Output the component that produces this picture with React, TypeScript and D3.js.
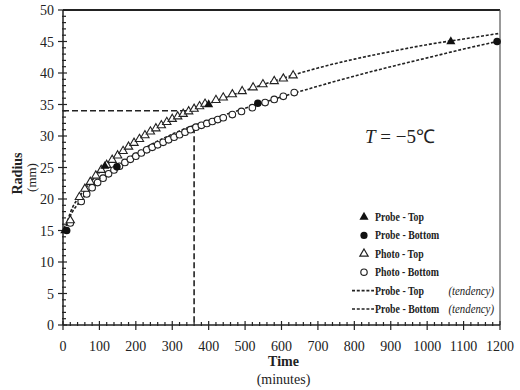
import * as d3 from 'd3';
import { useEffect, useRef } from 'react';

const W = 520;
const H = 390;

// measured points (minutes, radius mm)
const probeTopT = [5, 115, 400, 1065];
const probeTopR = [15, 25.2, 35, 45];
const probeBottomT = [10, 148, 535, 1192];
const probeBottomR = [15, 25.1, 35.2, 45];

const photoTopT = [20, 45, 60, 75, 90, 105, 120, 135, 150, 165, 180, 195, 210, 225, 240, 255, 270, 285, 300, 315, 330, 345, 360, 375, 390, 420, 440, 465, 492, 522, 549, 580, 605, 632];
const photoTopR = [16.6, 20.3, 21.6, 22.7, 23.7, 24.6, 25.4, 26.2, 26.9, 27.6, 28.3, 28.9, 29.5, 30.1, 30.7, 31.2, 31.7, 32.2, 32.7, 33.1, 33.5, 33.9, 34.3, 34.7, 35.1, 35.7, 36.1, 36.6, 37.1, 37.7, 38.2, 38.7, 39.1, 39.6];
const photoBottomT = [20, 50, 65, 80, 95, 110, 125, 140, 155, 170, 185, 200, 215, 230, 245, 260, 275, 290, 305, 320, 335, 350, 365, 380, 395, 410, 425, 440, 465, 490, 520, 555, 580, 605, 635];
const photoBottomR = [16.2, 19.6, 20.8, 21.8, 22.6, 23.3, 24, 24.6, 25.2, 25.8, 26.3, 26.8, 27.3, 27.8, 28.2, 28.6, 29, 29.4, 29.8, 30.2, 30.6, 31, 31.4, 31.7, 32, 32.3, 32.6, 32.9, 33.4, 33.9, 34.5, 35.3, 35.8, 36.3, 36.9];

// tendency curves
const trendTopT = [5, 20, 50, 100, 200, 300, 400, 500, 600, 700, 800, 900, 1000, 1100, 1200];
const trendTopR = [15, 17.8, 20.8, 24.2, 29.2, 32.6, 35.1, 37.2, 39.1, 40.8, 42.2, 43.4, 44.5, 45.4, 46.3];
const trendBottomT = [5, 20, 50, 100, 200, 300, 400, 500, 600, 700, 800, 900, 1000, 1100, 1200];
const trendBottomR = [15, 17.3, 19.8, 22.8, 27.2, 30.3, 32.5, 34.4, 36.2, 37.9, 39.5, 41, 42.4, 43.8, 45.1];

const xTicks = [0, 100, 200, 300, 400, 500, 600, 700, 800, 900, 1000, 1100, 1200];
const yTicks = [0, 5, 10, 15, 20, 25, 30, 35, 40, 45, 50];

const refTime = 360;
const refRadius = 34;
const refBottom = 31.4;

const legendLabels = ['Probe - Top', 'Probe - Bottom', 'Photo - Top', 'Photo - Bottom', 'Probe - Top', 'Probe - Bottom'];

const FONT = 'Liberation Serif';

function zip(t: number[], r: number[]) {
    return t.map((v, i) => ({ t: v, r: r[i] }));
}

export default function App() {
    const svgRef = useRef<SVGSVGElement | null>(null);

    useEffect(() => {
        if (!svgRef.current) return;
        const svg = d3.select(svgRef.current);
        svg.selectAll('*').remove();

        const margin = { top: 10, right: 20, bottom: 65, left: 63 };
        const innerW = W - margin.left - margin.right;
        const innerH = H - margin.top - margin.bottom;

        const x = d3.scaleLinear().domain([0, 1200]).range([0, innerW]);
        const y = d3.scaleLinear().domain([0, 50]).range([innerH, 0]);

        svg.append('rect').attr('width', W).attr('height', H).attr('fill', '#fff');

        const g = svg.append('g').attr('transform', `translate(${margin.left},${margin.top})`);

        // frame: top and right
        g.append('line').attr('x1', 0).attr('x2', innerW).attr('y1', 0).attr('y2', 0)
            .attr('stroke', '#222').attr('stroke-width', 2);
        g.append('line').attr('x1', innerW).attr('x2', innerW).attr('y1', 0).attr('y2', innerH)
            .attr('stroke', '#555').attr('stroke-width', 1.2);

        // x axis
        const xAxis = g.append('g').attr('transform', `translate(0,${innerH})`);
        xAxis.append('line').attr('x1', 0).attr('x2', innerW).attr('stroke', '#222').attr('stroke-width', 1.5);
        xAxis.selectAll('.minor').data(d3.range(0, 1201, 20)).join('line')
            .attr('x1', (d) => x(d)).attr('x2', (d) => x(d))
            .attr('y1', (d) => (d % 100 === 0 ? -4 : -3)).attr('y2', (d) => (d % 100 === 0 ? 5 : 1))
            .attr('stroke', '#222').attr('stroke-width', 1.2);
        xAxis.selectAll('text').data(xTicks).join('text')
            .attr('x', (d) => x(d)).attr('y', 26)
            .attr('text-anchor', 'middle').style('font-family', FONT).attr('font-size', 14)
            .attr('fill', '#222').text((d) => d);

        // y axis
        const yAxis = g.append('g');
        yAxis.append('line').attr('y1', 0).attr('y2', innerH).attr('stroke', '#222').attr('stroke-width', 1.5);
        yAxis.selectAll('.minor').data(d3.range(0, 51, 1)).join('line')
            .attr('y1', (d) => y(d)).attr('y2', (d) => y(d))
            .attr('x1', (d) => (d % 5 === 0 ? -5 : -1)).attr('x2', (d) => (d % 5 === 0 ? 4 : 3))
            .attr('stroke', '#222').attr('stroke-width', 1.2);
        yAxis.selectAll('text').data(yTicks).join('text')
            .attr('x', -9).attr('y', (d) => y(d) + 5)
            .attr('text-anchor', 'end').style('font-family', FONT).attr('font-size', 14)
            .attr('fill', '#222').text((d) => d);

        // axis titles
        svg.append('text').attr('transform', `translate(22,${margin.top + innerH / 2 + 6}) rotate(-90)`)
            .attr('text-anchor', 'middle').style('font-family', FONT).attr('font-size', 14)
            .attr('font-weight', 'bold').attr('fill', '#222').text('Radius');
        svg.append('text').attr('transform', `translate(36,${margin.top + innerH / 2 + 10}) rotate(-90)`)
            .attr('text-anchor', 'middle').style('font-family', FONT).attr('font-size', 13)
            .attr('fill', '#222').text('(mm)');
        svg.append('text').attr('x', margin.left + innerW / 2 + 2).attr('y', 366)
            .attr('text-anchor', 'middle').style('font-family', FONT).attr('font-size', 14)
            .attr('font-weight', 'bold').attr('fill', '#222').text('Time');
        svg.append('text').attr('x', margin.left + innerW / 2 + 2).attr('y', 384)
            .attr('text-anchor', 'middle').style('font-family', FONT).attr('font-size', 14)
            .attr('fill', '#222').text('(minutes)');

        // reference cross lines
        g.append('path')
            .attr('d', `M0,${y(refRadius)}H${x(refTime)}`)
            .attr('fill', 'none').attr('stroke', '#222').attr('stroke-width', 1.5).attr('stroke-dasharray', '6,3');
        g.append('path')
            .attr('d', `M${x(refTime)},${y(refBottom)}V${innerH}`)
            .attr('fill', 'none').attr('stroke', '#222').attr('stroke-width', 1.6).attr('stroke-dasharray', '6,3');

        // tendency curves
        const line = d3.line<{ t: number; r: number }>()
            .x((d) => x(d.t)).y((d) => y(d.r)).curve(d3.curveMonotoneX);
        [zip(trendTopT, trendTopR), zip(trendBottomT, trendBottomR)].forEach((s) => {
            g.append('path').datum(s).attr('d', line)
                .attr('fill', 'none').attr('stroke', '#222').attr('stroke-width', 1.6)
                .attr('stroke-dasharray', '3,1.8');
        });

        const tri = d3.symbol().type(d3.symbolTriangle).size(36);
        const triOpen = d3.symbol().type(d3.symbolTriangle).size(30);

        // photo markers (open)
        g.append('g').selectAll('path').data(zip(photoBottomT, photoBottomR)).join('circle')
            .attr('cx', (d) => x(d.t)).attr('cy', (d) => y(d.r)).attr('r', 3.3)
            .attr('fill', '#fff').attr('stroke', '#222').attr('stroke-width', 1.1);
        g.append('g').selectAll('path').data(zip(photoTopT, photoTopR)).join('path')
            .attr('d', triOpen).attr('transform', (d) => `translate(${x(d.t)},${y(d.r)})`)
            .attr('fill', '#fff').attr('stroke', '#222').attr('stroke-width', 1.1);

        // probe markers (filled)
        g.append('g').selectAll('circle').data(zip(probeBottomT, probeBottomR)).join('circle')
            .attr('cx', (d) => x(d.t)).attr('cy', (d) => y(d.r)).attr('r', 3.8).attr('fill', '#111');
        g.append('g').selectAll('path').data(zip(probeTopT, probeTopR)).join('path')
            .attr('d', tri).attr('transform', (d) => `translate(${x(d.t)},${y(d.r)})`).attr('fill', '#111');

        // annotation
        const ann = svg.append('text').attr('x', 365).attr('y', 143)
            .style('font-family', FONT).attr('font-size', 19).attr('fill', '#222');
        ann.append('tspan').attr('font-style', 'italic').text('T');
        ann.append('tspan').text(' = \u22125\u2103');

        // legend (condensed bold text like the original)
        const lg = svg.append('g');
        const rowY = (i: number) => 218 + i * 18.4;
        legendLabels.forEach((label, i) => {
            const cy = rowY(i);
            if (i === 0) {
                lg.append('path').attr('d', tri).attr('transform', `translate(364,${cy - 1})`).attr('fill', '#111');
            } else if (i === 1) {
                lg.append('circle').attr('cx', 364).attr('cy', cy - 1).attr('r', 3.6).attr('fill', '#111');
            } else if (i === 2) {
                lg.append('path').attr('d', triOpen).attr('transform', `translate(364,${cy - 1})`)
                    .attr('fill', '#fff').attr('stroke', '#222').attr('stroke-width', 1.2);
            } else if (i === 3) {
                lg.append('circle').attr('cx', 364).attr('cy', cy - 1).attr('r', 3.2)
                    .attr('fill', '#fff').attr('stroke', '#222').attr('stroke-width', 1.2);
            } else {
                lg.append('line').attr('x1', 352).attr('x2', 374).attr('y1', cy - 1).attr('y2', cy - 1)
                    .attr('stroke', '#222').attr('stroke-width', 1.6).attr('stroke-dasharray', '3,1.8');
            }
            lg.append('text').attr('transform', `translate(375,${cy + 3}) scale(0.82,1)`)
                .style('font-family', FONT).attr('font-size', 12).attr('font-weight', 'bold')
                .attr('fill', '#222').text(label);
            if (i >= 4) {
                lg.append('text').attr('transform', `translate(494,${cy + 3}) scale(0.9,1)`)
                    .attr('text-anchor', 'end')
                    .style('font-family', FONT).attr('font-size', 12).attr('font-style', 'italic')
                    .attr('fill', '#222').text('(tendency)');
            }
        });
    }, []);

    return (
        <svg
            ref={svgRef}
            width={W}
            height={H}
            style={{ position: 'absolute', left: 0, top: 0, display: 'block' }}
        />
    );
}
